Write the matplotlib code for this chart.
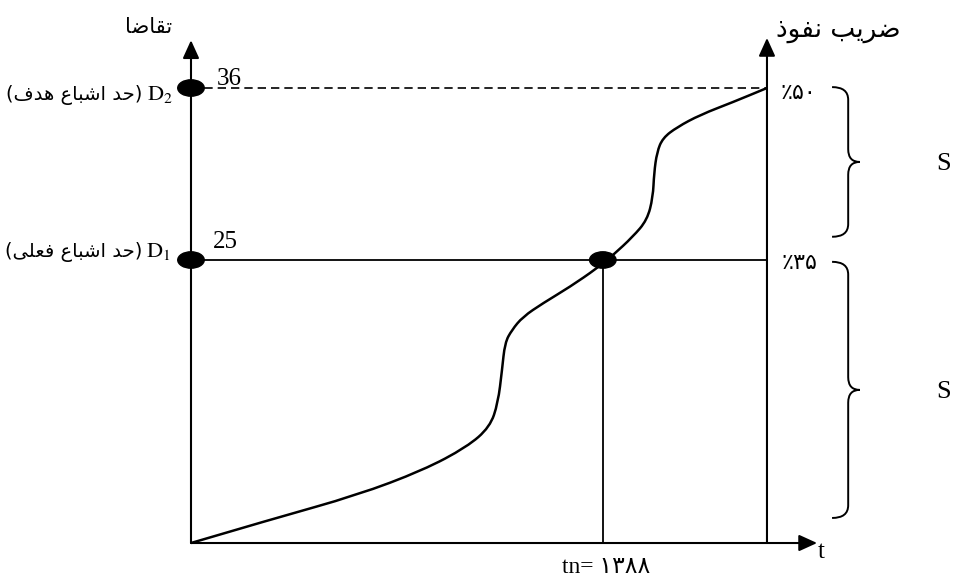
import matplotlib
matplotlib.use("Agg")
import matplotlib.pyplot as plt
from matplotlib.patches import Ellipse, PathPatch
from matplotlib.path import Path

# schematic units: t runs 0..1 between the two vertical axes,
# level runs 0..1 between the t axis and the target saturation line
curve_t = [0.0, 0.142, 0.288, 0.403, 0.479, 0.519, 0.533, 0.540, 0.545, 0.557,
           0.576, 0.611, 0.658, 0.705, 0.733, 0.767, 0.792, 0.802, 0.804, 0.809,
           0.819, 0.844, 0.884, 0.941, 1.0]
curve_level = [0.0, 0.053, 0.105, 0.160, 0.211, 0.255, 0.308, 0.380, 0.440, 0.468,
               0.497, 0.527, 0.563, 0.604, 0.633, 0.673, 0.710, 0.760, 0.813, 0.859,
               0.890, 0.914, 0.941, 0.969, 1.0]

level_target = 1.0      # D2
level_actual = 0.622    # D1
t_now = 0.715           # tn

demand_values = ["36", "25"]
penetration_labels = ["\u066A\u06F5\u06F0", "\u066A\u06F3\u06F5"]
t_now_label = "tn= \u06F1\u06F3\u06F8\u06F8"
brace_spans = [(1.002, 0.673), (0.618, 0.055)]

# presentation forms (isolated, final, initial, medial)
FORMS = {
    'ا': ('\uFE8D', '\uFE8E', None, None),
    'ب': ('\uFE8F', '\uFE90', '\uFE91', '\uFE92'),
    'ت': ('\uFE95', '\uFE96', '\uFE97', '\uFE98'),
    'ح': ('\uFEA1', '\uFEA2', '\uFEA3', '\uFEA4'),
    'د': ('\uFEA9', '\uFEAA', None, None),
    'ذ': ('\uFEAB', '\uFEAC', None, None),
    'ر': ('\uFEAD', '\uFEAE', None, None),
    'ش': ('\uFEB5', '\uFEB6', '\uFEB7', '\uFEB8'),
    'ض': ('\uFEBD', '\uFEBE', '\uFEBF', '\uFEC0'),
    'ع': ('\uFEC9', '\uFECA', '\uFECB', '\uFECC'),
    'ف': ('\uFED1', '\uFED2', '\uFED3', '\uFED4'),
    'ق': ('\uFED5', '\uFED6', '\uFED7', '\uFED8'),
    'ل': ('\uFEDD', '\uFEDE', '\uFEDF', '\uFEE0'),
    'ن': ('\uFEE5', '\uFEE6', '\uFEE7', '\uFEE8'),
    'ه': ('\uFEE9', '\uFEEA', '\uFEEB', '\uFEEC'),
    'و': ('\uFEED', '\uFEEE', None, None),
    'ی': ('\uFEEF', '\uFEF0', '\uFEF3', '\uFEF4'),
}


def shape(s):
    # join letters and flip to visual order, matplotlib draws left to right
    out = []
    for i, ch in enumerate(s):
        if ch not in FORMS:
            out.append(ch)
            continue
        prev = s[i - 1] if i > 0 else ''
        nxt = s[i + 1] if i + 1 < len(s) else ''
        join_prev = prev in FORMS and FORMS[prev][2] is not None
        join_next = nxt in FORMS and FORMS[ch][2] is not None
        iso, fin, ini, med = FORMS[ch]
        if join_prev and join_next:
            out.append(med)
        elif join_prev:
            out.append(fin)
        elif join_next:
            out.append(ini)
        else:
            out.append(iso)
    return ''.join(reversed(out))


def smooth_path(xs, ys):
    # read points act as bezier controls, midpoints as anchors
    verts = [(xs[0], ys[0])]
    codes = [Path.MOVETO]
    for i in range(1, len(xs) - 1):
        verts += [(xs[i], ys[i]), ((xs[i] + xs[i + 1]) / 2, (ys[i] + ys[i + 1]) / 2)]
        codes += [Path.CURVE3, Path.CURVE3]
    verts.append((xs[-1], ys[-1]))
    codes.append(Path.LINETO)
    return Path(verts, codes)


def brace(ax, top, bottom, x0=1.113, xb=1.141, xt=1.161, curl=0.028):
    mid = (top + bottom) / 2
    verts = [(x0, top), (xb, top), (xb, top - curl),
             (xb, mid + curl), (xb, mid), (xt, mid),
             (xb, mid), (xb, mid - curl),
             (xb, bottom + curl), (xb, bottom), (x0, bottom)]
    codes = [Path.MOVETO, Path.CURVE3, Path.CURVE3,
             Path.LINETO, Path.CURVE3, Path.CURVE3,
             Path.CURVE3, Path.CURVE3,
             Path.LINETO, Path.CURVE3, Path.CURVE3]
    ax.add_patch(PathPatch(Path(verts, codes), fill=False, lw=1.4, color="black"))


plt.rcParams["mathtext.fontset"] = "stix"
SERIF = ["Liberation Serif", "DejaVu Sans"]
ARAB = ["DejaVu Sans"]

fig = plt.figure(figsize=(9.54, 5.79), dpi=100)
ax = fig.add_axes([0, 0, 1, 1])
ax.set_xlim(-0.3316, 1.3247)
ax.set_ylim(-0.0791, 1.1934)
ax.axis("off")

arrow = dict(arrowstyle="-|>,head_length=1.1,head_width=0.5", mutation_scale=10,
             lw=1.5, color="black", shrinkA=0, shrinkB=0)
ax.annotate("", xy=(0, 1.105), xytext=(0, 0), arrowprops=arrow)
ax.annotate("", xy=(1.0, 1.110), xytext=(1.0, 0), arrowprops=arrow)
ax.annotate("", xy=(1.087, 0), xytext=(0, 0), arrowprops=arrow)

ax.plot([0, 1], [level_target, level_target], color="black", lw=1.2, ls=(0, (5, 3)))
ax.plot([0, 1], [level_actual, level_actual], color="black", lw=1.3)
ax.plot([t_now, t_now], [0, level_actual], color="black", lw=1.3)
ax.add_patch(PathPatch(smooth_path(curve_t, curve_level), fill=False, lw=1.8, color="black"))

for x, y in [(0, level_target), (0, level_actual), (t_now, level_actual)]:
    ax.add_patch(Ellipse((x, y), 0.046, 0.036, color="black", zorder=5))

# left axis labels
ax.text(-0.073, 1.134, shape("تقاضا"), family=ARAB, fontsize=15, ha="center", va="center")
ax.text(0.045, 1.007, demand_values[0], family=SERIF, fontsize=18, ha="left", va="baseline")
ax.text(0.038, 0.648, demand_values[1], family=SERIF, fontsize=18, ha="left", va="baseline")
ax.text(-0.031, 0.974, r"$\mathrm{D}_2$", fontsize=16, ha="right", va="baseline")
ax.text(-0.036, 0.629, r"$\mathrm{D}_1$", fontsize=16, ha="right", va="baseline")
ax.text(-0.084, 0.985, "(" + shape("حد اشباع هدف") + ")", family=ARAB, fontsize=14,
        ha="right", va="center")
ax.text(-0.085, 0.640, "(" + shape("حد اشباع فعلی") + ")", family=ARAB, fontsize=14,
        ha="right", va="center")

# right axis labels
ax.text(1.123, 1.127, shape("ضریب نفوذ"), family=ARAB, fontsize=19, ha="center", va="center")
ax.text(1.054, 0.989, penetration_labels[0], family=ARAB, fontsize=16, ha="center", va="center")
ax.text(1.057, 0.615, penetration_labels[1], family=ARAB, fontsize=16, ha="center", va="center")

for top, bottom in brace_spans:
    brace(ax, top, bottom)
    ax.text(1.306, (top + bottom) / 2 - 0.005, "S", family=SERIF, fontsize=19,
            ha="center", va="center")

ax.text(1.089, -0.020, "t", family=SERIF, fontsize=18, ha="left", va="center")
ax.text(t_now + 0.005, -0.053, t_now_label, family=SERIF, fontsize=17, ha="center", va="center")

fig.savefig("out.png", dpi=100)
